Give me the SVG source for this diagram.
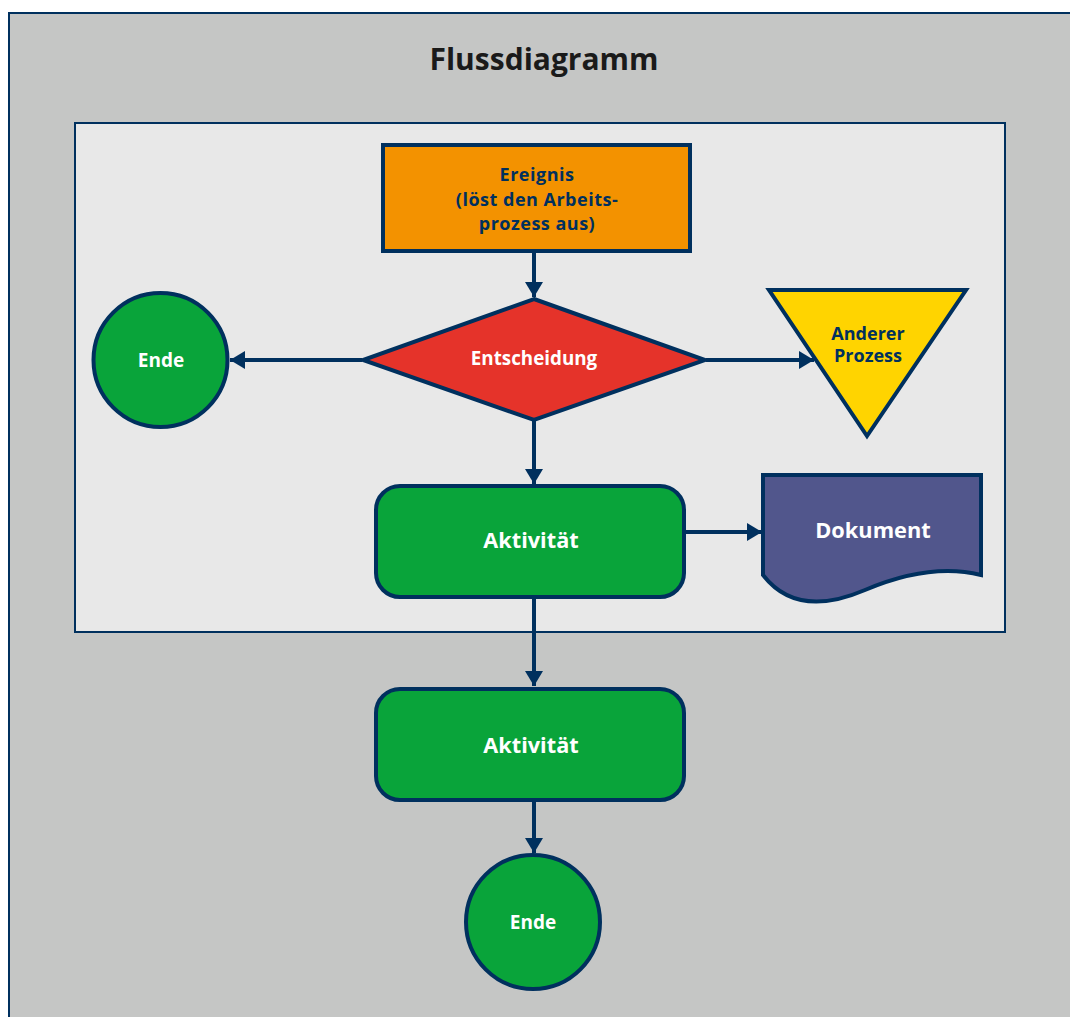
<svg xmlns="http://www.w3.org/2000/svg" width="1070" height="1017" viewBox="0 0 1070 1017">
<style>
.lbl{font-family:"Open Sans","Noto Sans","Liberation Sans",sans-serif;font-weight:bold;text-anchor:middle}
.w{fill:#ffffff}
.b{fill:#00305e}
.shape{stroke:#00305e;stroke-width:4}
.conn{stroke:#00305e;stroke-width:4;fill:none}
</style>
<defs>
<marker id="ah" markerUnits="userSpaceOnUse" markerWidth="16" markerHeight="18" refX="15" refY="9" orient="auto">
<path d="M0,0 L15,9 L0,18 z" fill="#00305e"/>
</marker>
</defs>
<rect x="9" y="13" width="1080" height="1020" fill="#c5c6c5" stroke="#00305e" stroke-width="2"/>
<text class="lbl" x="544" y="70" font-size="30" fill="#1a1a1a">Flussdiagramm</text>
<rect x="75" y="123" width="930" height="509" fill="#e8e8e8" stroke="#00305e" stroke-width="2"/>
<g id="connectors">
<line class="conn" x1="534" y1="253" x2="534" y2="297" marker-end="url(#ah)"/>
<line class="conn" x1="362" y1="360" x2="230" y2="360" marker-end="url(#ah)"/>
<line class="conn" x1="706" y1="360" x2="814" y2="360" marker-end="url(#ah)"/>
<line class="conn" x1="534" y1="420" x2="534" y2="484" marker-end="url(#ah)"/>
<line class="conn" x1="686" y1="532" x2="762" y2="532" marker-end="url(#ah)"/>
<line class="conn" x1="534" y1="598" x2="534" y2="686" marker-end="url(#ah)"/>
<line class="conn" x1="534" y1="801" x2="534" y2="853" marker-end="url(#ah)"/>
</g>
<g id="ereignis">
<rect class="shape" x="383" y="145" width="307" height="106" fill="#f39200"/>
<text class="lbl b" x="537" y="181" font-size="18" letter-spacing="0.5">Ereignis</text>
<text class="lbl b" x="537" y="205.5" font-size="18" letter-spacing="0.5">(löst den Arbeits-</text>
<text class="lbl b" x="537" y="230" font-size="18" letter-spacing="0.5">prozess aus)</text>
</g>
<g id="entscheidung">
<polygon class="shape" points="534,299 705,360 534,420 363,360" fill="#e5332a"/>
<text class="lbl w" x="534" y="365" font-size="18.8">Entscheidung</text>
</g>
<g id="ende1">
<circle class="shape" cx="160.5" cy="360" r="67" fill="#09a43a"/>
<text class="lbl w" x="161" y="367" font-size="19">Ende</text>
</g>
<g id="anderer-prozess">
<polygon class="shape" points="769,290 966,290 867,436" fill="#ffd400"/>
<text class="lbl b" x="868" y="340" font-size="18">Anderer</text>
<text class="lbl b" x="868" y="362" font-size="18">Prozess</text>
</g>
<g id="aktivitaet1">
<rect class="shape" x="376" y="486" width="308" height="111" rx="24" fill="#09a43a"/>
<text class="lbl w" x="531" y="548" font-size="21.7">Aktivität</text>
</g>
<g id="dokument">
<path class="shape" d="M763,475 H981 V575 C945,566 905,573 865,590 C830,605 790,610 763,575 Z" fill="#51568c"/>
<text class="lbl w" x="873" y="538" font-size="21.8">Dokument</text>
</g>
<g id="aktivitaet2">
<rect class="shape" x="376" y="689" width="308" height="111" rx="24" fill="#09a43a"/>
<text class="lbl w" x="531" y="753" font-size="21.7">Aktivität</text>
</g>
<g id="ende2">
<circle class="shape" cx="533" cy="922" r="67" fill="#09a43a"/>
<text class="lbl w" x="533" y="929" font-size="19">Ende</text>
</g>
</svg>
